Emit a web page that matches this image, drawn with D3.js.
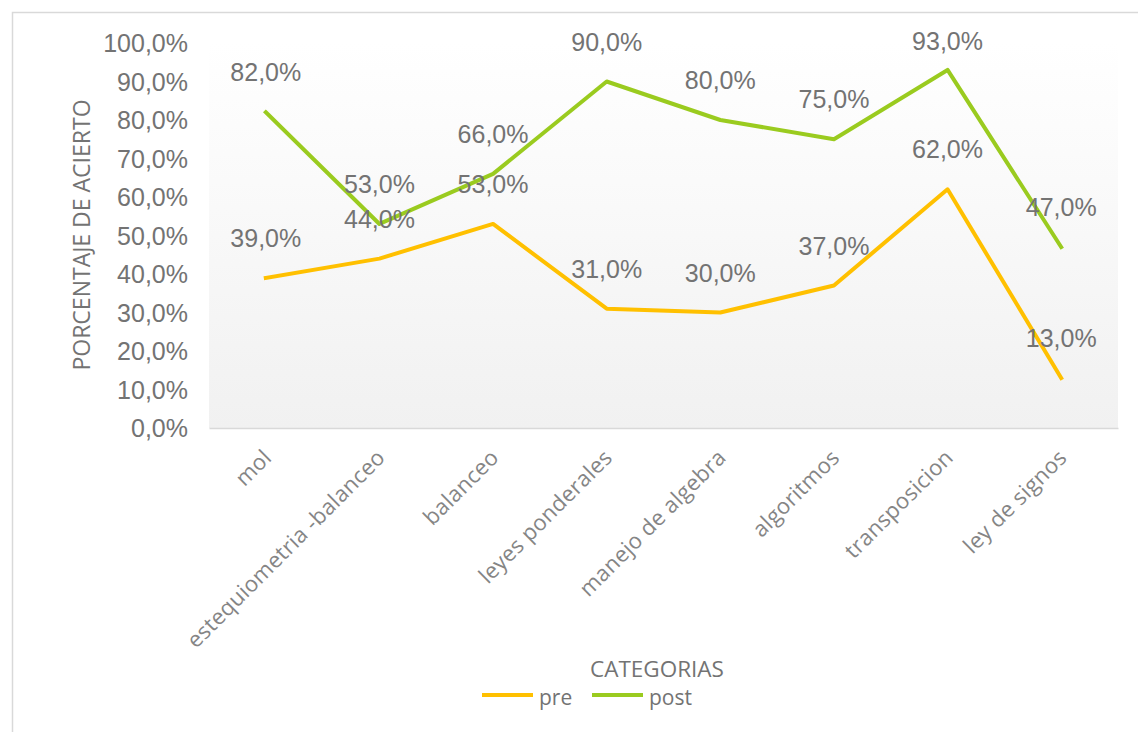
<!DOCTYPE html>
<html>
<head>
<meta charset="utf-8">
<script src="https://cdn.jsdelivr.net/npm/d3@7"></script>
<style>
  html, body { margin: 0; padding: 0; background: #fff; }
  svg { display: block; }
</style>
</head>
<body>
<svg id="chart" width="1138" height="732"></svg>
<script>
const categories = ["mol", "estequiometria -balanceo", "balanceo", "leyes ponderales", "manejo de algebra", "algoritmos", "transposicion", "ley de signos"];
const preValues = [39, 44, 53, 31, 30, 37, 62, 13];
const postValues = [82, 53, 66, 90, 80, 75, 93, 47];
const yTicks = [0, 10, 20, 30, 40, 50, 60, 70, 80, 90, 100];
const seriesNames = ["pre", "post"];
const seriesColors = ["#FFC000", "#9ACB1F"];

const svg = d3.select("#chart");
const W = 1138, H = 732;
const plot = { left: 209, right: 1118, top: 43, bottom: 428 };

// outer border
svg.append("rect").attr("x", 12.5).attr("y", 12.5).attr("width", W).attr("height", H)
  .attr("fill", "#fff").attr("stroke", "#d9d9d9").attr("stroke-width", 1.5);

const defs = svg.append("defs");
const grad = defs.append("linearGradient").attr("id", "bg").attr("x1", 0).attr("y1", 0).attr("x2", 0).attr("y2", 1);
grad.append("stop").attr("offset", "0%").attr("stop-color", "#ffffff");
grad.append("stop").attr("offset", "100%").attr("stop-color", "#f1f1f1");

const x = d3.scaleBand().domain(categories).range([plot.left, plot.right]).padding(0);
const y = d3.scaleLinear().domain([0, 100]).range([plot.bottom, plot.top]);

svg.append("rect").attr("x", plot.left).attr("y", plot.top)
  .attr("width", plot.right - plot.left).attr("height", plot.bottom - plot.top)
  .attr("fill", "url(#bg)");

// y axis labels
const fmt = v => d3.format(".1f")(v).replace(".", ",") + "%";
const yAxis = d3.axisLeft(y).tickValues(yTicks).tickFormat(fmt).tickSize(0).tickPadding(0);
const yg = svg.append("g").attr("transform", `translate(${188},0)`).call(yAxis);
yg.select(".domain").remove();
yg.selectAll("text").attr("font-family", "Liberation Sans, Arial, sans-serif")
  .attr("font-size", 25).attr("fill", "#737373").attr("dy", "0.35em");

// x axis
const xAxis = d3.axisBottom(x).tickSize(0).tickPadding(0);
const xg = svg.append("g").attr("transform", `translate(0,${plot.bottom})`).call(xAxis);
xg.select(".domain").attr("stroke", "#d9d9d9").attr("stroke-width", 1.5);
xg.selectAll("text")
  .attr("font-family", "Open Sans, sans-serif").attr("font-size", 22).attr("fill", "#858585")
  .attr("letter-spacing", 0.3)
  .attr("text-anchor", "end")
  .attr("y", 0).attr("dy", 0)
  .attr("transform", "translate(7,31) rotate(-45)");

// lines
const line = d3.line().x((d, i) => x(categories[i]) + x.bandwidth() / 2).y(d => y(d));
[preValues, postValues].forEach((vals, si) => {
  svg.append("path").datum(vals).attr("d", line)
    .attr("fill", "none").attr("stroke", seriesColors[si]).attr("stroke-width", 4)
    .attr("stroke-linejoin", "round").attr("stroke-linecap", "square");
});

// data labels (kept inside the chart top margin)
[preValues, postValues].forEach((vals, si) => {
  svg.append("g").selectAll("text").data(vals).join("text")
    .attr("x", (d, i) => x(categories[i]) + x.bandwidth() / 2)
    .attr("y", d => Math.max(y(d) - 31, 50))
    .attr("text-anchor", "middle")
    .attr("font-family", "Liberation Sans, Arial, sans-serif")
    .attr("font-size", 25).attr("fill", "#737373")
    .text(d => fmt(d));
});

// axis titles
svg.append("text").attr("transform", "translate(90,235) rotate(-90)")
  .attr("text-anchor", "middle").attr("font-family", "Open Sans, sans-serif")
  .attr("font-size", 23).attr("fill", "#737373").text("PORCENTAJE DE ACIERTO");

svg.append("text").attr("x", 657).attr("y", 677)
  .attr("text-anchor", "middle").attr("font-family", "Open Sans, sans-serif")
  .attr("font-size", 22.5).attr("fill", "#737373").text("CATEGORIAS");

// legend
const legendX = [482, 592];
seriesNames.forEach((name, i) => {
  svg.append("line").attr("x1", legendX[i]).attr("x2", legendX[i] + 51)
    .attr("y1", 695).attr("y2", 695)
    .attr("stroke", seriesColors[i]).attr("stroke-width", 4);
  svg.append("text").attr("x", legendX[i] + 57).attr("y", 705)
    .attr("font-family", "Open Sans, sans-serif").attr("font-size", 21)
    .attr("fill", "#737373").text(name);
});
</script>
</body>
</html>
